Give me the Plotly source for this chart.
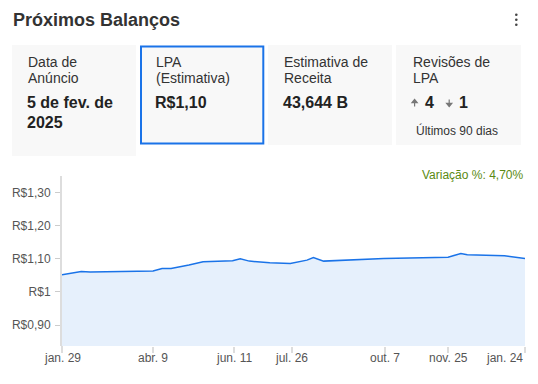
import plotly.graph_objects as go

# ---- data ----
dates = ["2024-01-29", "2024-02-13", "2024-02-20", "2024-04-09", "2024-04-16",
         "2024-04-23", "2024-05-07", "2024-05-18", "2024-06-10", "2024-06-16",
         "2024-06-23", "2024-07-09", "2024-07-25", "2024-08-07", "2024-08-12",
         "2024-08-20", "2024-10-06", "2024-11-07", "2024-11-25", "2024-12-05",
         "2024-12-10", "2025-01-08", "2025-01-19", "2025-01-24"]
eps = [1.052, 1.062, 1.060, 1.063, 1.071,
       1.071, 1.081, 1.091, 1.094, 1.100,
       1.093, 1.088, 1.086, 1.096, 1.104,
       1.093, 1.101, 1.105, 1.105, 1.116,
       1.112, 1.109, 1.104, 1.101]

x_tick_vals = ["2024-01-29", "2024-04-09", "2024-06-11", "2024-07-26",
               "2024-10-07", "2024-11-25", "2025-01-24"]
x_tick_text = ["jan. 29", "abr. 9", "jun. 11", "jul. 26", "out. 7", "nov. 25", "jan. 24"]
y_tick_vals = [0.9, 1.0, 1.1, 1.2, 1.3]
y_tick_text = ["R$0,90", "R$1", "R$1,10", "R$1,20", "R$1,30"]

title_text = "Próximos Balanços"
card_labels = [["Data de", "Anúncio"], ["LPA", "(Estimativa)"],
               ["Estimativa de", "Receita"], ["Revisões de", "LPA"]]
card_values = [["5 de fev. de", "2025"], ["R$1,10"], ["43,644 B"], []]
revisions_up = "4"
revisions_down = "1"
revisions_note = "Últimos 90 dias"
change_text = "Variação %: 4,70%"

# ---- layout geometry (pixels) ----
W, H = 538, 384
ML, MR, MT, MB = 62, 13, 176, 38
PW, PH = W - ML - MR, H - MT - MB
FONT = "Liberation Sans, Arial, sans-serif"


def px(x):
    return (x - ML) / PW


def py(y):
    return (H - MB - y) / PH


fig = go.Figure()
fig.add_trace(go.Scatter(
    x=dates, y=eps, mode="lines",
    line=dict(color="#1a73e8", width=1.5),
    fill="tozeroy", fillcolor="rgba(26,115,232,0.11)",
    hoverinfo="skip", showlegend=False,
))

shapes = []
annotations = []

# cards
card_boxes = [(12, 45, 136, 156), (140, 45.5, 264.3, 144.5),
              (268, 45, 392, 145), (396, 45, 521, 145)]
for i, (x0, y0, x1, y1) in enumerate(card_boxes):
    if i == 1:
        shapes.append(dict(type="rect", xref="paper", yref="paper",
                           x0=px(x0 + 1), x1=px(x1 - 1), y0=py(y0 + 1), y1=py(y1 - 1),
                           fillcolor="#f8f8f8", line=dict(color="#1a73e8", width=2)))
    else:
        shapes.append(dict(type="rect", xref="paper", yref="paper",
                           x0=px(x0), x1=px(x1), y0=py(y0), y1=py(y1),
                           fillcolor="#f8f8f8", line=dict(width=0)))

text_x = [26, 154, 282, 411]
for i in range(4):
    for j, line in enumerate(card_labels[i]):
        annotations.append(dict(text=line, x=px(text_x[i]), y=py(62 + 16 * j),
                                xref="paper", yref="paper", xanchor="left", yanchor="middle",
                                showarrow=False, font=dict(family=FONT, size=14, color="#333333")))
    for j, line in enumerate(card_values[i]):
        annotations.append(dict(text="<b>%s</b>" % line, x=px(text_x[i] - 1), y=py(102.5 + 19.5 * j),
                                xref="paper", yref="paper", xanchor="left", yanchor="middle",
                                showarrow=False, font=dict(family=FONT, size=16, color="#222222")))


# revisions row: small gray arrows drawn as paths
def arrow_path(cx, up):
    top, bot = 99.5, 106.5
    if up:
        return ("M %f,%f L %f,%f L %f,%f Z M %f,%f L %f,%f" %
                (px(cx - 2.6), py(top + 3.2), px(cx), py(top), px(cx + 2.6), py(top + 3.2),
                 px(cx), py(top + 2.5), px(cx), py(bot)))
    return ("M %f,%f L %f,%f L %f,%f Z M %f,%f L %f,%f" %
            (px(cx - 2.6), py(bot - 3.2), px(cx), py(bot), px(cx + 2.6), py(bot - 3.2),
             px(cx), py(bot - 2.5), px(cx), py(top)))


for cx, up in [(414.6, True), (449.2, False)]:
    shapes.append(dict(type="path", xref="paper", yref="paper", path=arrow_path(cx, up),
                       fillcolor="#777777", line=dict(color="#777777", width=1.2)))
for txt, xx in [(revisions_up, 422.5), (revisions_down, 456.5)]:
    annotations.append(dict(text="<b>%s</b>" % txt, x=px(xx), y=py(102.5),
                            xref="paper", yref="paper", xanchor="left", yanchor="middle",
                            showarrow=False, font=dict(family=FONT, size=16, color="#222222")))
annotations.append(dict(text=revisions_note, x=px(413.5), y=py(130.5),
                        xref="paper", yref="paper", xanchor="left", yanchor="middle",
                        showarrow=False, font=dict(family=FONT, size=12, color="#333333")))

# title
annotations.append(dict(text="<b>%s</b>" % title_text, x=px(11), y=py(19.7),
                        xref="paper", yref="paper", xanchor="left", yanchor="middle",
                        showarrow=False, font=dict(family=FONT, size=18, color="#333333")))
# kebab dots
for dy in (14.8, 19.8, 24.8):
    shapes.append(dict(type="circle", xref="paper", yref="paper",
                       x0=px(515), x1=px(517.6), y0=py(dy - 1.3), y1=py(dy + 1.3),
                       fillcolor="#444444", line=dict(width=0)))

# change %
annotations.append(dict(text=change_text, x=px(524.5), y=py(175.3),
                        xref="paper", yref="paper", xanchor="right", yanchor="middle",
                        showarrow=False, font=dict(family=FONT, size=12, color="#5a8a12")))

# x tick labels (last one right-aligned at the plot edge)
for k, (tv, tt) in enumerate(zip(x_tick_vals, x_tick_text)):
    last = k == len(x_tick_vals) - 1
    annotations.append(dict(text=tt, x=tv, y=py(357.5),
                            xref="x", yref="paper", xanchor="right" if last else "center",
                            yanchor="middle", showarrow=False,
                            font=dict(family=FONT, size=12, color="#555555")))

# y axis line extension below plot
shapes.append(dict(type="line", xref="paper", yref="paper",
                   x0=px(62), x1=px(62), y0=py(346), y1=py(352),
                   line=dict(color="#dddddd", width=2)))

fig.update_layout(
    width=W, height=H,
    margin=dict(l=ML, r=MR, t=MT, b=MB, autoexpand=False),
    paper_bgcolor="white", plot_bgcolor="white",
    font=dict(family=FONT, size=12, color="#555555"),
    shapes=shapes, annotations=annotations,
    xaxis=dict(type="date", range=["2024-01-29", "2025-01-24"],
               tickvals=x_tick_vals, showticklabels=False,
               ticks="outside", ticklen=6, tickcolor="#dddddd", tickwidth=1.5,
               showgrid=False, showline=False, zeroline=False),
    yaxis=dict(range=[0.8373, 1.3494], tickvals=y_tick_vals, ticktext=y_tick_text,
               ticks="outside", ticklen=5, tickcolor="#cccccc", ticklabelstandoff=2,
               showgrid=False, zeroline=False, showline=True,
               linecolor="#dddddd", linewidth=2,
               tickfont=dict(family=FONT, size=12, color="#555555")),
)

fig.write_html("out.html")
